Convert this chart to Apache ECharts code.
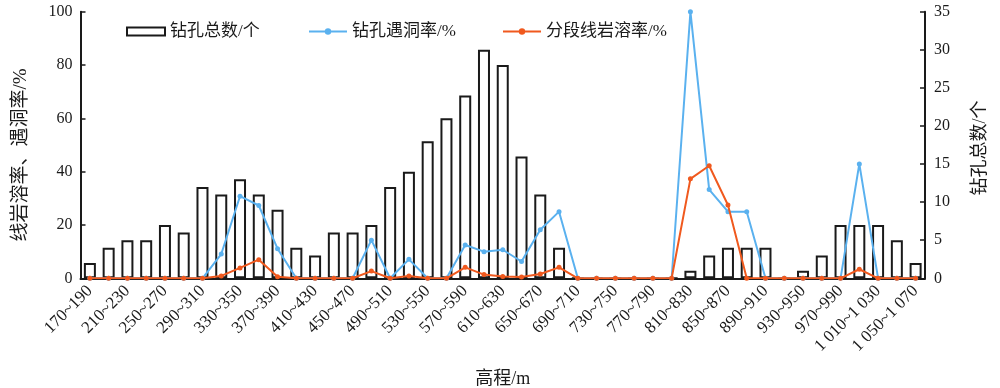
<!DOCTYPE html>
<html>
<head>
<meta charset="utf-8">
<script src="https://cdn.jsdelivr.net/npm/echarts@6/dist/echarts.min.js"></script>
<style>html,body{margin:0;padding:0;background:#fff;}#c{width:1000px;height:388px;}</style>
</head>
<body>
<div id="c"></div>
<script>
const categories = ['170~190','190~210','210~230','230~250','250~270','270~290','290~310','310~330','330~350','350~370','370~390','390~410','410~430','430~450','450~470','470~490','490~510','510~530','530~550','550~570','570~590','590~610','610~630','630~650','650~670','670~690','690~710','710~730','730~750','750~770','770~790','790~810','810~830','830~850','850~870','870~890','890~910','910~930','930~950','950~970','970~990','990~1 010','1 010~1 030','1 030~1 050','1 050~1 070'];
const holeCount = [2,4,5,5,7,6,12,11,13,11,9,4,3,6,6,7,12,14,18,21,24,30,28,16,11,4,0,0,0,0,0,0,1,3,4,4,4,0,1,3,7,7,7,5,2];
const caveRate = [0,0,0,0,0,0,0,9.1,30.8,27.3,11.1,0,0,0,0,14.3,0,7.1,0,0,12.5,10,10.7,6.3,18.2,25,0,0,0,0,0,0,100,33.3,25,25,0,0,0,0,0,42.9,0,0,0];
const karstRate = [0,0,0,0,0,0,0,0.9,3.9,7.0,0.6,0,0,0,0,2.7,0,0.9,0,0,4.1,1.4,0.7,0.5,1.6,4.1,0,0,0,0,0,0,37.3,42.2,27.5,0,0,0,0,0,0,3.4,0,0,0];
const leftTicks = [0,20,40,60,80,100];
const rightTicks = [0,5,10,15,20,25,30,35];

const FONT = "'Liberation Serif', 'Noto Sans CJK SC', serif";
const INK = '#1a1a1a';
const BLUE = '#5AB1EF';
const ORANGE = '#F0591E';

const chart = echarts.init(document.getElementById('c'), null, {renderer: 'canvas'});
const legendBase = {
  top: 18, orient: 'horizontal', itemWidth: 38, itemHeight: 8, itemGap: 6,
  textStyle: {fontFamily: FONT, fontSize: 17, color: INK}
};
chart.setOption({
  animation: false,
  backgroundColor: '#fff',
  textStyle: {fontFamily: FONT},
  grid: {left: 80.5, right: 75, top: 11.7, bottom: 109.7, containLabel: false, outerBoundsMode: 'none'},
  legend: [
    Object.assign({}, legendBase, {left: 121, data: [{name: '钻孔总数/个', icon: 'rect'}],
      itemStyle: {color: '#fff', borderColor: INK, borderWidth: 2}}),
    Object.assign({}, legendBase, {left: 303, data: ['钻孔遇洞率/%']}),
    Object.assign({}, legendBase, {left: 497, data: ['分段线岩溶率/%']})
  ],
  xAxis: {
    type: 'category', data: categories, boundaryGap: true,
    name: '高程/m', nameLocation: 'middle', nameGap: 92,
    nameTextStyle: {fontFamily: FONT, fontSize: 18, color: INK},
    axisLine: {lineStyle: {color: INK, width: 2}},
    axisTick: {inside: true, length: 4, interval: 0, lineStyle: {color: INK, width: 1.5}},
    axisLabel: {interval: 1, rotate: 45, fontFamily: FONT, fontSize: 17, color: INK, margin: 10}
  },
  yAxis: [
    {
      type: 'value', min: leftTicks[0], max: leftTicks[leftTicks.length-1], interval: leftTicks[1]-leftTicks[0],
      name: '线岩溶率、遇洞率/%', nameLocation: 'middle', nameGap: 50, nameRotate: 90,
      nameTextStyle: {fontFamily: FONT, fontSize: 19, color: INK, padding: [0, 20, 0, 0]},
      axisLine: {show: true, lineStyle: {color: INK, width: 2}},
      axisTick: {show: true, inside: true, length: 5, lineStyle: {color: INK, width: 1.5}},
      axisLabel: {fontFamily: FONT, fontSize: 16, color: INK, margin: 8},
      splitLine: {show: false}
    },
    {
      type: 'value', min: rightTicks[0], max: rightTicks[rightTicks.length-1], interval: rightTicks[1]-rightTicks[0],
      position: 'right',
      name: '钻孔总数/个', nameLocation: 'middle', nameGap: 46, nameRotate: 90,
      nameTextStyle: {fontFamily: FONT, fontSize: 18, color: INK, padding: [0, 6, 0, 0]},
      axisLine: {show: true, lineStyle: {color: INK, width: 2}},
      axisTick: {show: true, inside: true, length: 5, lineStyle: {color: INK, width: 1.5}},
      axisLabel: {fontFamily: FONT, fontSize: 16, color: INK, margin: 9},
      splitLine: {show: false}
    }
  ],
  series: [
    {
      name: '钻孔总数/个', type: 'bar', yAxisIndex: 1, data: holeCount, barWidth: 12, z: 2,
      itemStyle: {color: '#fff', borderColor: INK, borderWidth: 2}
    },
    {
      name: '钻孔遇洞率/%', type: 'line', yAxisIndex: 0, data: caveRate, z: 3,
      symbol: 'circle', symbolSize: 5, color: BLUE,
      lineStyle: {color: BLUE, width: 2}, itemStyle: {color: BLUE}
    },
    {
      name: '分段线岩溶率/%', type: 'line', yAxisIndex: 0, data: karstRate, z: 4,
      symbol: 'circle', symbolSize: 5, color: ORANGE,
      lineStyle: {color: ORANGE, width: 2}, itemStyle: {color: ORANGE}
    }
  ]
});
</script>
</body>
</html>
